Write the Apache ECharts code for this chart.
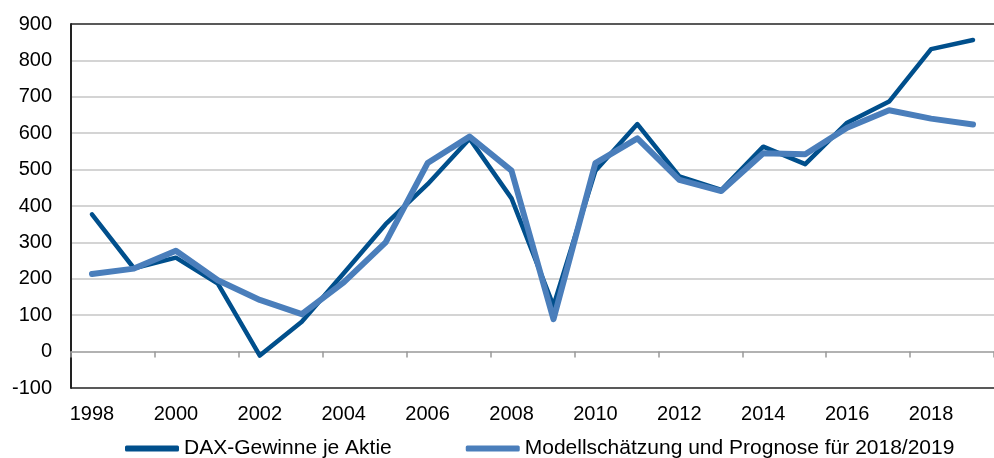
<!DOCTYPE html>
<html>
<head>
<meta charset="utf-8">
<title>DAX-Gewinne je Aktie</title>
<script src="https://cdn.jsdelivr.net/npm/echarts@6/dist/echarts.min.js"></script>
<style>
	html, body { margin: 0; padding: 0; background: #fff; }
	#main { width: 994px; height: 458px; }
</style>
</head>
<body>
<div id="main"></div>
<script>
'use strict';

// years on the x axis
var years = ['1998', '1999', '2000', '2001', '2002', '2003', '2004', '2005', '2006', '2007', '2008',
	'2009', '2010', '2011', '2012', '2013', '2014', '2015', '2016', '2017', '2018', '2019'];

// DAX earnings per share
var daxGewinne = [377, 229, 258, 187, -11, 82, 215, 350, 460, 585, 421,
	126, 497, 625, 481, 444, 563, 515, 629, 687, 831, 856];

// model estimate and forecast for 2018/2019
var modell = [213, 228, 277, 196, 142, 103, 190, 300, 518, 591, 497,
	89, 518, 586, 472, 441, 545, 542, 615, 663, 640, 624];

var seriesNames = ['DAX-Gewinne je Aktie', 'Modellschätzung und Prognose für 2018/2019'];

// gridlines: black at top and bottom, gray in between
var splitColors = ['#222222'];
for (var i = 0; i < 9; i++) {
	splitColors.push('#c6c6c6');
}
splitColors.push('#222222');

var myChart = echarts.init(document.getElementById('main'));

var option = {
	animation: false,
	textStyle: {
		fontFamily: 'Liberation Sans, Arial, sans-serif'
	},
	grid: {
		left: 71,
		top: 24,
		width: 933,
		height: 364
	},
	legend: {
		data: seriesNames,
		left: 120,
		top: 433,
		icon: 'roundRect',
		itemWidth: 54,
		itemHeight: 6,
		itemGap: 74,
		textStyle: {
			fontSize: 21,
			color: '#000'
		}
	},
	xAxis: {
		type: 'category',
		data: years,
		boundaryGap: true,
		axisLine: {
			onZero: true,
			lineStyle: { color: '#a6a6a6', width: 1.5 }
		},
		axisTick: {
			show: true,
			interval: 1,
			length: 6,
			lineStyle: { color: '#999999', width: 1.5 }
		},
		axisLabel: {
			interval: 1,
			margin: 16,
			fontSize: 20,
			color: '#000'
		}
	},
	yAxis: {
		type: 'value',
		min: -100,
		max: 900,
		interval: 100,
		axisLine: {
			show: true,
			lineStyle: { color: '#222', width: 2 }
		},
		axisTick: { show: false },
		axisLabel: {
			margin: 19,
			fontSize: 20,
			color: '#000'
		},
		splitLine: {
			lineStyle: { color: splitColors, width: 1.5 }
		}
	},
	series: [
		{
			name: seriesNames[0],
			type: 'line',
			data: daxGewinne,
			showSymbol: false,
			symbol: 'none',
			lineStyle: { color: '#004f8c', width: 4.5, cap: 'round', join: 'round' },
			itemStyle: { color: '#004f8c' }
		},
		{
			name: seriesNames[1],
			type: 'line',
			data: modell,
			showSymbol: false,
			symbol: 'none',
			lineStyle: { color: '#4a7ebb', width: 6, cap: 'round', join: 'round' },
			itemStyle: { color: '#4a7ebb' }
		}
	]
};

myChart.setOption(option);
</script>
</body>
</html>
